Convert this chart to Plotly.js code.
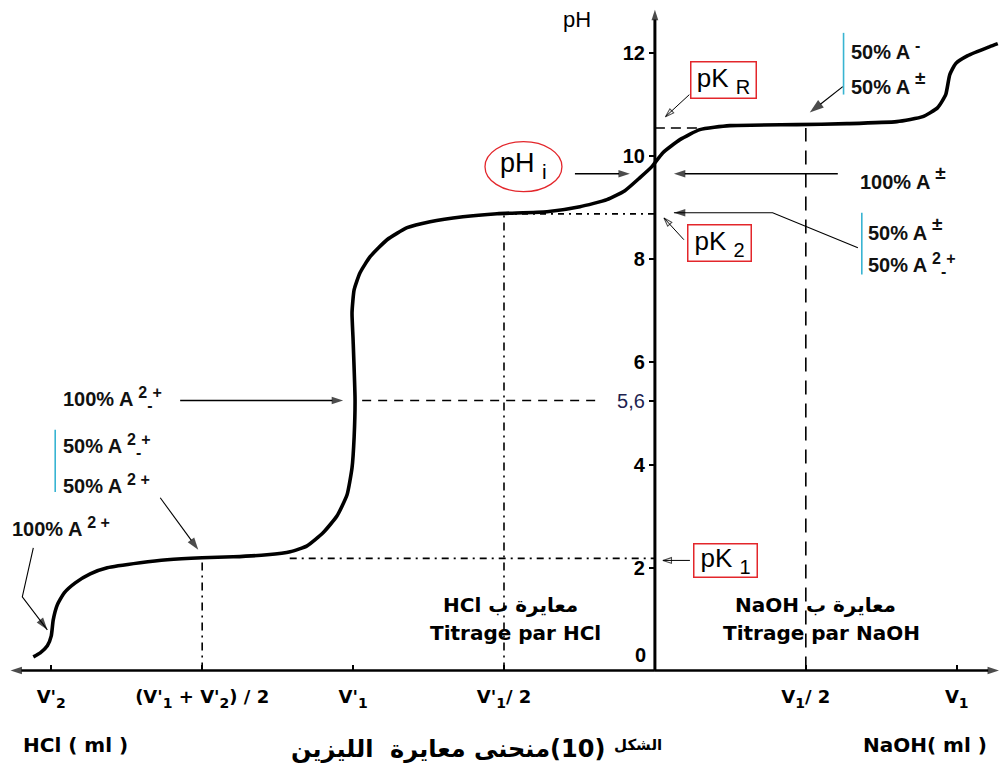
<!DOCTYPE html>
<html>
<head>
<meta charset="utf-8">
<script src="https://cdn.plot.ly/plotly-3.0.1.min.js"></script>
<style>html,body{margin:0;padding:0;background:#fff}</style>
</head>
<body>
<div id="chart" style="width:1008px;height:767px"></div>
<script>
// ---- data (volume axis: HCl to the left of 0, NaOH to the right; V1 = 2 units) ----
const curveVolume = [-4.119,-4.073,-4.026,-4.000,-3.987,-3.960,-3.914,-3.841,-3.742,-3.629,-3.411,-3.232,-3.000,-2.795,-2.570,-2.417,-2.305,-2.199,-2.106,-2.040,-2.007,-1.993,-1.987,-2.000,-2.007,-1.993,-1.954,-1.887,-1.775,-1.642,-1.490,-1.272,-1.046,-0.715,-0.497,-0.318,-0.199,-0.099,-0.020,0.053,0.166,0.298,0.497,0.940,1.272,1.603,1.775,1.874,1.927,1.954,1.993,2.073,2.219,2.272];
const curvePH = [0.265,0.342,0.479,0.673,0.984,1.276,1.510,1.704,1.879,1.996,2.093,2.152,2.191,2.210,2.249,2.307,2.424,2.677,3.008,3.416,3.942,4.545,5.265,6.432,6.957,7.405,7.735,8.047,8.377,8.611,8.728,8.825,8.883,8.922,9.019,9.156,9.331,9.584,9.798,10.070,10.323,10.518,10.595,10.615,10.634,10.673,10.770,10.946,11.198,11.588,11.802,11.957,12.132,12.191];

// text helpers: raised / lowered parts without extra zero-width tspans
const up = (s, fs) => '<span style="baseline-shift:' + (fs ? Math.round(fs * 0.42) : 6) + 'px;font-size:' + (fs ? Math.round(fs * 0.78) : 14) + 'px">' + s + '</span>';
const dn = (s, fs) => '<span style="baseline-shift:-' + (fs ? Math.round(fs * 0.25) : 5) + 'px;font-size:' + (fs ? Math.round(fs * 0.78) : 14) + 'px">' + s + '</span>';

const volumeTicks = [-4, -3, -2, -1, 1, 2];
const volumeTickLabels = ["V'" + dn('2', 18), "(V'" + dn('1', 18) + " + V'" + dn('2', 18) + ") / 2", "V'" + dn('1', 18), "V'" + dn('1', 18) + "/ 2", "V" + dn('1', 18) + "/ 2", "V" + dn('1', 18)];
const pHTicks = [2, 4, 6, 8, 10, 12];
const pHTickLabels = ['2', '4', '6', '8', '10', '12'];
const zeroLabel = '0';

const pK1 = 2.18;
const pK2 = 8.88;
const pKR = 10.55;
const pHi = 9.66;
const midPH = 5.25;          // drawn position of the "5,6" mark
const midPHLabel = '5,6';

const vHalfAcid = -1;        // V'1/2
const vAcidMid = -3;         // (V'1+V'2)/2
const vHalfBase = 1;         // V1/2

// ---- layout constants ----
const xRange = [-4.3, 2.3];
const yRange = [-1.8, 13];
const W = 1008, H = 767;

const BLACK = '#000';
const RED = '#e3262b';
const CYAN = '#38b4d2';
const FL = 'Liberation Sans, Arial, sans-serif';
const FD = 'DejaVu Sans, sans-serif';

function guide(xs, ys, dash, width) {
  return {x: xs, y: ys, mode: 'lines', hoverinfo: 'skip', showlegend: false,
          line: {color: BLACK, width: width || 1.6, dash: dash}};
}
// arrow drawn as a polyline whose last point carries an arrow marker
function arrowTrace(xs, ys, kind, lw, headSize) {
  const n = xs.length;
  const sym = [], size = [];
  for (let i = 0; i < n; i++) { sym.push(i === n - 1 ? kind : 'circle'); size.push(i === n - 1 ? headSize : 0); }
  return {x: xs, y: ys, mode: 'lines+markers', hoverinfo: 'skip', showlegend: false,
          line: {color: BLACK, width: lw},
          marker: {symbol: sym, size: size, angleref: 'previous', color: BLACK,
                   line: {color: BLACK, width: kind.indexOf('open') >= 0 ? 1.1 : 0}}};
}

const traces = [
  guide([-2.42, 0], [pK1, pK1], '7px,5px,2px,5px'),
  guide([vAcidMid, vAcidMid], [0, pK1], '8px,5px,2px,5px'),
  guide([-1.94, -0.38], [midPH, midPH], '9px,7px', 1.4),
  guide([vHalfAcid, vHalfAcid], [0, pK2], '8px,5px,2px,5px'),
  guide([vHalfAcid, 0], [pK2, pK2], '6px,5px,2px,5px'),
  guide([0, 0.3], [pKR, pKR], '10px,6px', 1.5),
  guide([vHalfBase, vHalfBase], [0, pKR], '14px,9px', 1.6),
  // titration curve
  {x: curveVolume, y: curvePH, mode: 'lines', hoverinfo: 'skip', showlegend: false,
   line: {color: BLACK, width: 3.6, shape: 'spline', smoothing: 0.5}},
  // axes with arrowheads
  arrowTrace([0, xRange[0] + 0.03], [0, 0], 'arrow', 2.6, 12),
  arrowTrace([0, xRange[1] - 0.02], [0, 0], 'arrow', 2.6, 12),
  arrowTrace([0, 0], [0, 12.85], 'arrow', 3, 11),
  // pointer arrows
  arrowTrace([0.228, 0.070], [11.198, 10.77], 'arrow-open', 1, 9),
  arrowTrace([-0.530, -0.166], [pHi, pHi], 'arrow', 1.3, 12),
  arrowTrace([1.212, 0.126], [pHi, pHi], 'arrow', 1.3, 12),
  arrowTrace([1.345, 0.78, 0.126], [8.22, pK2 + 0.02, pK2 + 0.02], 'arrow', 1.1, 12),
  arrowTrace([0.192, 0.060], [8.377, 8.80], 'arrow-open', 1, 9),
  arrowTrace([1.245, 1.026], [11.354, 10.85], 'arrow', 1.2, 15),
  arrowTrace([0.232, 0.053], [pK1 - 0.04, pK1 - 0.04], 'arrow-open', 1, 9),
  arrowTrace([-3.146, -2.066], [midPH, midPH], 'arrow', 1.3, 12),
  arrowTrace([-3.278, -3.026], [3.358, 2.346], 'arrow', 1.1, 13),
  arrowTrace([-4.119, -4.192, -4.026], [2.385, 1.432, 0.79], 'arrow', 1.1, 13)
];

function txt(x, y, text, o) {
  o = o || {};
  return {x: x, y: y, xref: 'x', yref: 'y', text: text, showarrow: false,
          xanchor: o.xanchor || 'center', yanchor: 'middle',
          font: {family: o.family || FL, size: o.size || 20, color: o.color || '#111', weight: o.weight || 'normal'},
          bordercolor: o.border || 'rgba(0,0,0,0)', borderwidth: o.border ? 1.5 : 0, borderpad: o.pad || 0,
          width: o.width, height: o.height, align: 'center'};
}
const B = {family: FL, size: 20, weight: 'bold', xanchor: 'left'};
const AR = {family: FD, size: 20, weight: 'bold', color: '#000'};
const zw = '2' + dn('-', 20);   // "2" with the minus written below it
const annotations = [
  // axis texts
  txt(-0.517, 12.66, 'pH', {size: 22, color: '#000'}),
  txt(-0.06, 0.30, zeroLabel, {size: 20, weight: 'bold', xanchor: 'right', color: '#000'}),
  // boxed markers
  txt(0.452, 11.49, 'pK ' + dn('R', 26), {size: 26, border: RED, width: 62, height: 33, pad: 1, color: '#000'}),
  txt(0.427, 8.32, 'pK ' + dn('2', 26), {size: 26, border: RED, width: 60, height: 33, pad: 1, color: '#000'}),
  txt(0.467, 2.14, 'pK ' + dn('1', 26), {size: 26, border: RED, width: 60, height: 30, pad: 1, color: '#000'}),
  txt(-0.868, 9.82, 'pH ' + dn('i', 27), {size: 27, color: '#000'}),
  // species labels
  txt(1.298, 12.07, '50% A ' + up('-', 20), B),
  txt(1.298, 11.43, '50% A ' + up('±', 24), B),
  txt(1.358, 9.58, '100% A ' + up('±', 24), B),
  txt(1.411, 8.60, '50% A ' + up('±', 24), B),
  txt(1.411, 7.89, '50% A ' + up('2', 20) + dn('-', 20) + up('+', 20), B),
  txt(-3.921, 5.28, '100% A ' + up('2', 20) + dn('-', 20) + up('+', 20), B),
  txt(-3.921, 4.37, '50% A ' + up('2', 20) + dn('-', 20) + up('+', 20), B),
  txt(-3.921, 3.63, '50% A ' + up('2 +', 20), B),
  txt(-4.258, 2.79, '100% A ' + up('2 +', 20), B),
  // titration captions
  txt(-0.96, 1.276, '\u202Bمعايرة ب HCl\u202C', AR),
  txt(-0.927, 0.732, 'Titrage par HCl', AR),
  txt(1.066, 1.276, '\u202Bمعايرة ب NaOH\u202C', AR),
  txt(1.106, 0.732, 'Titrage par NaOH', AR),
  txt(-3.841, -1.45, 'HCl ( ml )', AR),
  txt(1.788, -1.45, 'NaOH( ml )', AR),
  txt(-0.113, -1.45, 'الشكل', {family: FD, size: 15, weight: 'bold', color: '#000'}),
  txt(-0.331, -1.53, '\u202B(10)منحنى معايرة  الليزين\u202C', {family: FD, size: 24, weight: 'bold', color: '#000', xanchor: 'right'})
];

const shapes = [
  {type: 'circle', xref: 'x', yref: 'y', x0: -1.126, x1: -0.616, y0: 9.311, y1: 10.284, line: {color: RED, width: 1.3}},
  {type: 'line', xref: 'x', yref: 'y', x0: 1.25, x1: 1.25, y0: 11.20, y1: 12.40, line: {color: CYAN, width: 1.6}},
  {type: 'line', xref: 'x', yref: 'y', x0: 1.371, x1: 1.371, y0: 7.70, y1: 8.90, line: {color: CYAN, width: 1.6}},
  {type: 'line', xref: 'x', yref: 'y', x0: -3.974, x1: -3.974, y0: 3.47, y1: 4.68, line: {color: CYAN, width: 1.6}}
];

const layout = {
  width: W, height: H, autosize: false,
  margin: {l: 6, r: 6, t: 2, b: 4, pad: 0},
  paper_bgcolor: '#fff', plot_bgcolor: '#fff',
  showlegend: false,
  xaxis: {range: xRange, anchor: 'free', position: (0 - yRange[0]) / (yRange[1] - yRange[0]),
          showgrid: false, zeroline: false, showline: false,
          tickmode: 'array', tickvals: volumeTicks, ticktext: volumeTickLabels,
          ticks: 'inside', ticklen: 5, tickwidth: 2, tickcolor: BLACK,
          ticklabelstandoff: 14,
          tickfont: {family: FD, size: 18, weight: 'bold', color: '#000'}},
  yaxis: {range: yRange, anchor: 'free', position: (0 - xRange[0]) / (xRange[1] - xRange[0]),
          showgrid: false, zeroline: false, showline: false,
          tickmode: 'array', tickvals: pHTicks.concat([midPH]),
          ticktext: pHTickLabels.concat(['<span style="font-weight:normal;color:#1d2350">' + midPHLabel + '</span>']),
          ticks: 'outside', ticklen: 6, tickwidth: 2, tickcolor: BLACK,
          tickfont: {family: FL, size: 20, weight: 'bold', color: '#000'}},
  shapes: shapes,
  annotations: annotations
};

Plotly.newPlot('chart', traces, layout, {staticPlot: true, displayModeBar: false});
</script>
</body>
</html>
